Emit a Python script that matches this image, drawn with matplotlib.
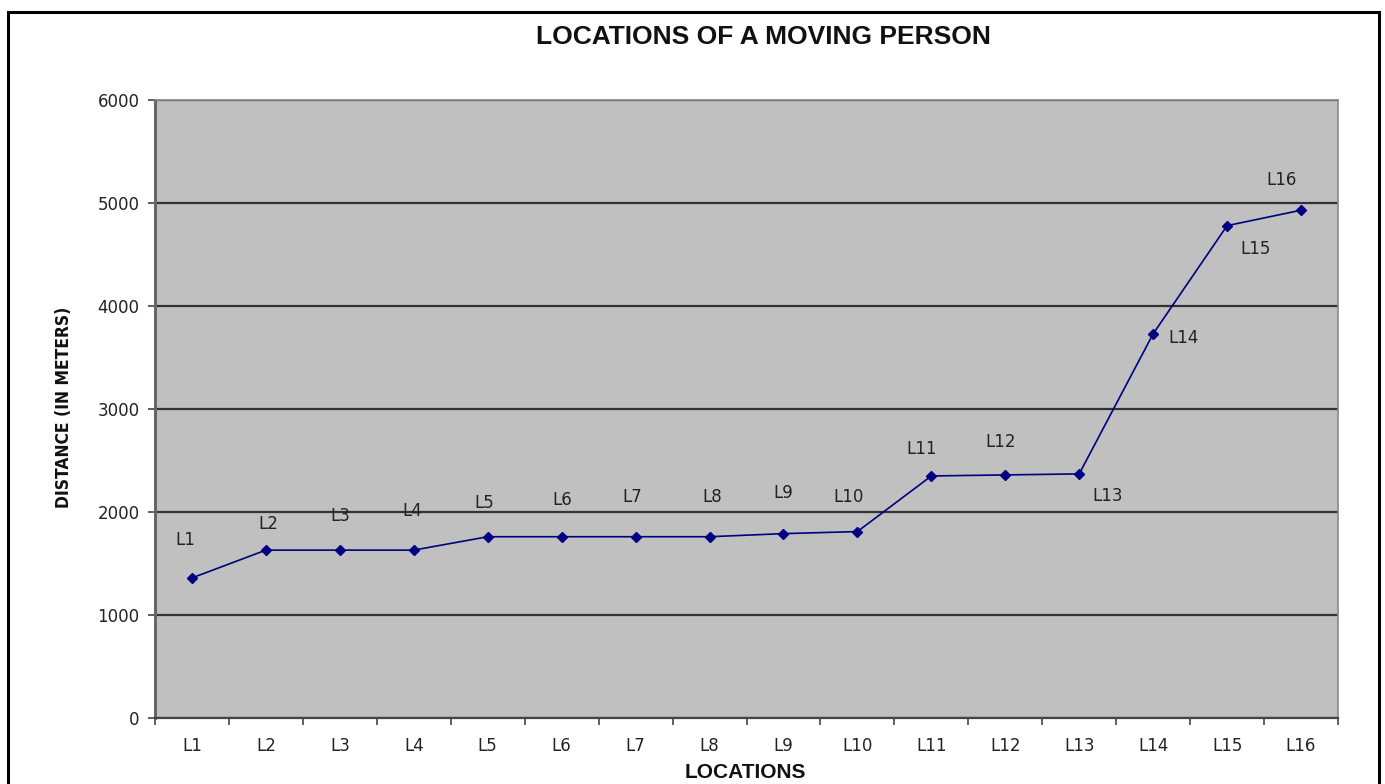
import matplotlib.pyplot as plt
import numpy as np
from matplotlib.patches import Rectangle

plt.rcParams['font.family'] = ['Liberation Sans', 'DejaVu Sans']

locations = ['L1', 'L2', 'L3', 'L4', 'L5', 'L6', 'L7', 'L8',
             'L9', 'L10', 'L11', 'L12', 'L13', 'L14', 'L15', 'L16']
distance = [1360, 1630, 1630, 1630, 1760, 1760, 1760, 1760,
            1790, 1810, 2350, 2360, 2370, 3730, 4780, 4930]
# where each point label sits, in pixels from its marker
label_dx = [-7, 2, 0, -2, -3, 1, -3, 3, 0, -9, -10, -5, 28, 30, 28, -19]
label_dy = [38, 26, 34, 39, 34, 37, 40, 40, 41, 35, 27, 33, -22, -4, -23, 30]

W, H = 1385, 784
fig = plt.figure(figsize=(W / 100, H / 100), dpi=100)
ax = fig.add_axes([155 / W, 1 - 718 / H, (1338 - 155) / W, (718 - 100) / H])

small = dict(family='DejaVu Sans', fontsize=12, color='#222222')

x = np.arange(len(locations))
ax.set_facecolor('#c0c0c0')
ax.plot(x, distance, color='#000080', lw=1.2, marker='D', ms=5,
        mfc='#000080', mec='#000080', zorder=3)

for xi, yi, name, dx, dy in zip(x, distance, locations, label_dx, label_dy):
    ax.annotate(name, (xi, yi), xytext=(dx, dy), textcoords='offset pixels',
                ha='center', va='center', **small)

ax.set_xlim(-0.5, len(locations) - 0.5)
ax.set_ylim(0, 6000)
ax.set_yticks(np.arange(0, 6001, 1000))
ax.yaxis.grid(True, color='#333333', lw=1.6)
ax.set_axisbelow(True)

ax.set_xticks(x)
ax.set_xticklabels(locations)
ax.set_xticks(np.arange(-0.5, len(locations), 1), minor=True)
ax.tick_params(axis='x', which='major', length=0, pad=14)
ax.tick_params(axis='x', which='minor', length=5, width=1.2, color='#444444')
ax.tick_params(axis='y', length=5, width=1.2, color='#444444', pad=6)
for lbl in ax.get_xticklabels() + ax.get_yticklabels():
    lbl.set(**small)

for side in ['top', 'right']:
    ax.spines[side].set_color('#888888')
    ax.spines[side].set_linewidth(1.2)
ax.spines['left'].set_color('#666666')
ax.spines['left'].set_linewidth(2.2)
ax.spines['bottom'].set_color('#444444')
ax.spines['bottom'].set_linewidth(1.6)

fig.text(763 / W, 1 - 37 / H, 'LOCATIONS OF A MOVING PERSON', ha='center',
         va='center', fontsize=19, fontweight='bold', color='#111111')
fig.text(745 / W, 1 - 772 / H, 'LOCATIONS', ha='center', va='center',
         fontsize=15, fontweight='bold', color='#111111')
fig.text(64 / W, 1 - 407 / H, 'DISTANCE (IN METERS)', rotation=90,
         ha='center', va='center', fontsize=12.5, fontweight='bold',
         fontstretch='condensed', color='#111111', family='DejaVu Sans')

# outer frame around the chart
fig.patches.append(Rectangle((8 / W, -0.02), (1379 - 8) / W, 1.02 - 12 / H,
                             transform=fig.transFigure, fill=False,
                             ec='black', lw=2.2))

fig.savefig('out.png', dpi=100)
